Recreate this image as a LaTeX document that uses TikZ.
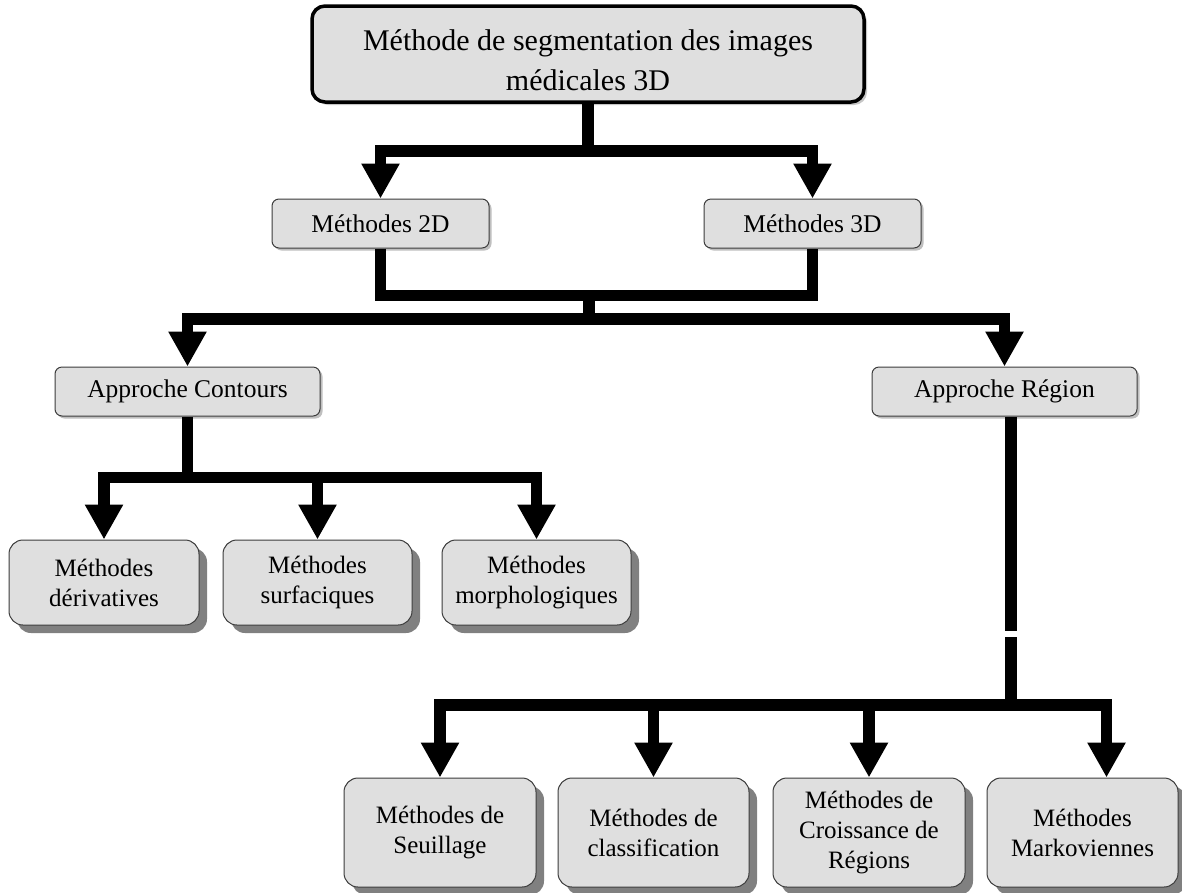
\documentclass[tikz,border=0pt]{standalone}
\usepackage{fontspec}
\setmainfont{Liberation Serif}
\usetikzlibrary{arrows.meta,shadows}

\definecolor{boxfill}{RGB}{223,223,223}
\definecolor{boxline}{RGB}{60,60,60}
\definecolor{shadowgray}{RGB}{128,128,128}

\tikzset{
  box/.style={draw=boxline, line width=1pt, fill=boxfill, align=center,
    inner sep=0pt, font=\fontsize{25}{30}\selectfont},
  headbox/.style={box, draw=black, line width=3.5pt, rounded corners=13pt,
    minimum width=552pt, minimum height=96pt,
    drop shadow={shadow xshift=3pt, shadow yshift=-3pt, fill=gray!45, opacity=1}},
  midbox/.style={box, rounded corners=7pt, minimum height=49pt,
    font=\fontsize{25.5}{30}\selectfont,
    drop shadow={shadow xshift=2.5pt, shadow yshift=-2.5pt, fill=gray!50, opacity=1}},
  leafbox/.style={box, rounded corners=14pt,
    drop shadow={shadow xshift=8pt, shadow yshift=-8pt, fill=shadowgray, opacity=1}},
  flow/.style={draw=black, line width=11.5pt, line join=miter},
  flowarrow/.style={flow, -{Triangle[width=36pt,length=35pt]}},
}

\begin{document}
\begin{tikzpicture}[x=1pt,y=-1pt]
\useasboundingbox (0,0) rectangle (1182,892);

% root
\node[headbox] (top) at (588,54) {};
\node[font=\fontsize{30}{40}\selectfont, align=center] (toptext) at (588,60)
  {Méthode de segmentation des images\\médicales 3D};

% 2D / 3D
\node[midbox, minimum width=217pt] (m2d) at (380.5,223.5) {Méthodes 2D};
\node[midbox, minimum width=217pt] (m3d) at (812.5,223.5) {Méthodes 3D};

% approaches
\node[midbox, minimum width=265pt] (cont) at (187.5,391.5) {Approche Contours};
\node[midbox, minimum width=265pt] (reg) at (1004.5,391.5) {Approche Région};

% contour methods
\node[leafbox, minimum width=190pt, minimum height=85pt] (d1) at (104,582.5)
  {Méthodes\\dérivatives};
\node[leafbox, minimum width=189pt, minimum height=85pt] (d2) at (317.5,582.5)
  {Méthodes\\surfaciques};
\node[leafbox, minimum width=189pt, minimum height=85pt] (d3) at (536.5,582.5)
  {Méthodes\\morphologiques};

% region methods
\node[leafbox, minimum width=192pt, minimum height=109pt] (s1) at (440,832.5)
  {Méthodes de\\Seuillage};
\node[leafbox, minimum width=191pt, minimum height=109pt] (s2) at (653.5,832.5)
  {Méthodes de\\classification};
\node[leafbox, minimum width=192pt, minimum height=109pt] (s3) at (869,832.5)
  {Méthodes de\\Croissance de\\Régions};
\node[leafbox, minimum width=191pt, minimum height=109pt] (s4) at (1082.5,832.5)
  {Méthodes\\Markoviennes};

% junction points
\coordinate (j1) at (588,151);
\coordinate (j2) at (589,295.5);
\coordinate (j3) at (589,319);
\coordinate (c1) at (187.5,477.5);
\coordinate (r1) at (1011,631);
\coordinate (r2) at (1011,637);
\coordinate (r3) at (1011,705);

% root -> 2D / 3D
\draw[flowarrow] (top.south) -- (j1) -| (m2d.north);
\draw[flowarrow] (j1) -| (m3d.north);

% 2D / 3D -> approaches
\draw[flow] (m2d.south) |- (j2) -| (m3d.south);
\draw[flow] (j2) -- (j3);
\draw[flowarrow] (j3) -| (cont.north);
\draw[flowarrow] (j3) -| (reg.north);

% contours -> methods
\draw[flow] (cont.south) -- (c1);
\draw[flowarrow] (c1) -| (d1.north);
\draw[flowarrow] (c1) -| (d2.north);
\draw[flowarrow] (c1) -| (d3.north);

% region -> methods
\draw[flow] (reg.south -| r1) -- (r1);
\draw[flow] (r2) -- (r3);
\draw[flowarrow] (r3) -| (s1.north);
\draw[flowarrow] (r3) -| (s2.north);
\draw[flowarrow] (r3) -| (s3.north);
\draw[flowarrow] (r3) -| ([xshift=24pt]s4.north);
\end{tikzpicture}
\end{document}
